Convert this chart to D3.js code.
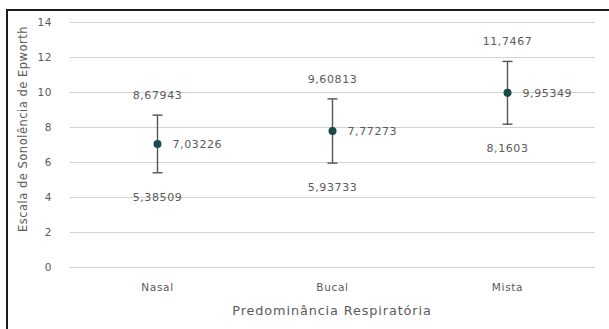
<!DOCTYPE html>
<html>
<head>
<meta charset="utf-8">
<script src="https://cdn.jsdelivr.net/npm/d3@7"></script>
<style>
  body { margin: 0; background: #fff; }
  text { font-family: "DejaVu Sans", sans-serif; fill: #5a5a5a; }
</style>
</head>
<body>
<div id="chart"></div>
<script>
var categories = ["Nasal", "Bucal", "Mista"];
var means = [7.03226, 7.77273, 9.95349];
var upper = [8.67943, 9.60813, 11.7467];
var lower = [5.38509, 5.93733, 8.1603];
var meanLabels = ["7,03226", "7,77273", "9,95349"];
var upperLabels = ["8,67943", "9,60813", "11,7467"];
var lowerLabels = ["5,38509", "5,93733", "8,1603"];
var yTicks = [0, 2, 4, 6, 8, 10, 12, 14];

var width = 609, height = 329;
var margin = {left: 70, right: 14, top: 22, bottom: 62};

var svg = d3.select("#chart").append("svg")
  .attr("width", width)
  .attr("height", height);

svg.append("rect")
  .attr("x", 7).attr("y", 10)
  .attr("width", 610).attr("height", 330)
  .attr("fill", "none")
  .attr("stroke", "#1a1a1a")
  .attr("stroke-width", 2);

var x = d3.scaleBand()
  .domain(categories)
  .range([margin.left, width - margin.right]);

var y = d3.scaleLinear()
  .domain([0, 14])
  .range([267, 22]);

// gridlines
svg.append("g")
  .selectAll("line")
  .data(yTicks)
  .join("line")
  .attr("x1", margin.left)
  .attr("x2", width - margin.right)
  .attr("y1", function(d) { return y(d) + 0.5; })
  .attr("y2", function(d) { return y(d) + 0.5; })
  .attr("stroke", "#d3d3d3")
  .attr("stroke-width", 1.2);

// y tick labels
svg.append("g")
  .selectAll("text")
  .data(yTicks)
  .join("text")
  .attr("x", 52)
  .attr("y", function(d) { return y(d); })
  .attr("dy", "0.35em")
  .attr("text-anchor", "end")
  .attr("font-size", 10.5)
  .attr("letter-spacing", 0.6)
  .text(function(d) { return d; });

// category labels
svg.append("g")
  .selectAll("text")
  .data(categories)
  .join("text")
  .attr("x", function(d) { return x(d) + x.bandwidth() / 2; })
  .attr("y", 287)
  .attr("dy", "0.35em")
  .attr("text-anchor", "middle")
  .attr("font-size", 10.5)
  .attr("letter-spacing", 0.7)
  .text(function(d) { return d; });

svg.append("text")
  .attr("x", 332)
  .attr("y", 311)
  .attr("dy", "0.35em")
  .attr("text-anchor", "middle")
  .attr("font-size", 12.8)
  .attr("letter-spacing", 0.9)
  .text("Predominância Respiratória");

svg.append("text")
  .attr("transform", "translate(23,129) rotate(-90)")
  .attr("dy", "0.35em")
  .attr("text-anchor", "middle")
  .attr("font-size", 11.5)
  .attr("letter-spacing", 0.5)
  .text("Escala de Sonolência de Epworth");

var pts = categories.map(function(c, i) {
  return {cat: c, mean: means[i], hi: upper[i], lo: lower[i],
    ml: meanLabels[i], hl: upperLabels[i], ll: lowerLabels[i]};
});

var g = svg.append("g").selectAll("g")
  .data(pts)
  .join("g")
  .attr("transform", function(d) { return "translate(" + (x(d.cat) + x.bandwidth() / 2) + ",0)"; });

g.append("line")
  .attr("x1", 0).attr("x2", 0)
  .attr("y1", function(d) { return y(d.hi); })
  .attr("y2", function(d) { return y(d.lo); })
  .attr("stroke", "#555")
  .attr("stroke-width", 1.4);

g.append("line")
  .attr("x1", -5).attr("x2", 5)
  .attr("y1", function(d) { return y(d.hi); })
  .attr("y2", function(d) { return y(d.hi); })
  .attr("stroke", "#555")
  .attr("stroke-width", 1.4);

g.append("line")
  .attr("x1", -5).attr("x2", 5)
  .attr("y1", function(d) { return y(d.lo); })
  .attr("y2", function(d) { return y(d.lo); })
  .attr("stroke", "#555")
  .attr("stroke-width", 1.4);

g.append("circle")
  .attr("cx", 0)
  .attr("cy", function(d) { return y(d.mean); })
  .attr("r", 4)
  .attr("fill", "#1b4a4b");

g.append("text")
  .attr("x", 15)
  .attr("y", function(d) { return y(d.mean); })
  .attr("dy", "0.35em")
  .attr("font-size", 11)
  .attr("letter-spacing", 0.6)
  .text(function(d) { return d.ml; });

g.append("text")
  .attr("x", 0)
  .attr("y", function(d) { return y(d.hi) - 20; })
  .attr("dy", "0.35em")
  .attr("text-anchor", "middle")
  .attr("font-size", 11)
  .attr("letter-spacing", 0.6)
  .text(function(d) { return d.hl; });

g.append("text")
  .attr("x", 0)
  .attr("y", function(d) { return y(d.lo) + 24; })
  .attr("dy", "0.35em")
  .attr("text-anchor", "middle")
  .attr("font-size", 11)
  .attr("letter-spacing", 0.6)
  .text(function(d) { return d.ll; });
</script>
</body>
</html>
